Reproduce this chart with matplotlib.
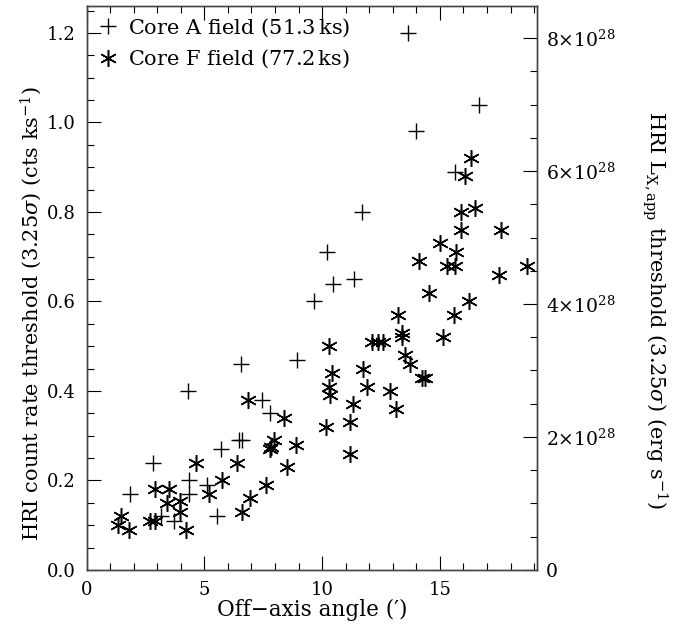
import matplotlib
matplotlib.use("Agg")
import matplotlib.pyplot as plt
from matplotlib.ticker import MultipleLocator, FixedLocator

# Core A field (51.3 ks): off-axis angle (arcmin), count-rate threshold (cts/ks)
core_a_angle = [1.85, 2.8, 3.15, 3.7, 4.3, 4.35, 4.35, 5.1, 5.55, 5.7, 6.45, 6.6,
                6.55, 7.45, 7.8, 8.95, 9.65, 10.2, 10.45, 11.35, 11.7, 13.65, 14.0,
                15.65, 16.65]
core_a_rate = [0.17, 0.24, 0.12, 0.11, 0.40, 0.20, 0.17, 0.19, 0.12, 0.27, 0.29, 0.29,
               0.46, 0.38, 0.35, 0.47, 0.60, 0.71, 0.64, 0.65, 0.80, 1.20, 0.98,
               0.89, 1.04]

# Core F field (77.2 ks)
core_f_angle = [1.45, 1.35, 1.8, 2.7, 2.9, 2.9, 3.5, 3.4, 3.95, 3.95, 4.2, 4.65,
                5.2, 5.75, 6.4, 6.6, 6.95, 7.6, 6.85, 8.4, 7.8, 7.85, 7.95, 8.9,
                8.5, 10.15, 10.3, 10.4, 10.3, 10.35, 11.2, 11.2, 11.3, 11.75, 11.9,
                12.1, 12.35, 12.6, 12.9, 13.15, 13.2, 13.4, 13.4, 13.5, 13.75, 14.25,
                14.35, 14.1, 14.55, 15.15, 15.0, 15.3, 15.65, 15.7, 15.6, 15.9, 15.9,
                16.05, 16.3, 16.5, 16.25, 17.5, 17.6, 18.7]
core_f_rate = [0.12, 0.10, 0.09, 0.11, 0.11, 0.18, 0.18, 0.15, 0.155, 0.13, 0.09, 0.24,
               0.17, 0.20, 0.24, 0.13, 0.16, 0.19, 0.38, 0.34, 0.27, 0.275, 0.29, 0.28,
               0.23, 0.32, 0.50, 0.44, 0.41, 0.39, 0.26, 0.33, 0.37, 0.45, 0.41,
               0.51, 0.51, 0.51, 0.40, 0.36, 0.57, 0.53, 0.52, 0.48, 0.46, 0.43,
               0.43, 0.69, 0.62, 0.52, 0.73, 0.68, 0.68, 0.71, 0.57, 0.76, 0.80,
               0.88, 0.92, 0.81, 0.60, 0.66, 0.76, 0.68]

# conversion count rate -> apparent luminosity (erg/s per cts/ks)
lum_per_rate = 6.73e28
lum_ticks = [0, 2e28, 4e28, 6e28, 8e28]
lum_labels = ["0", r"$2{\times}10^{28}$", r"$4{\times}10^{28}$",
              r"$6{\times}10^{28}$", r"$8{\times}10^{28}$"]

plt.rcParams["font.family"] = ["DejaVu Serif"]
plt.rcParams["mathtext.fontset"] = "dejavuserif"
plt.rcParams["font.size"] = 13

fig = plt.figure(figsize=(6.87, 6.34), dpi=100)
ax = fig.add_axes([0.126, 0.101, 0.656, 0.890])

ax.plot(core_a_angle, core_a_rate, ls="none", marker="+", ms=12, mew=1.0,
        color="black", label="Core A field (51.3$\\,$ks)")
ax.plot(core_f_angle, core_f_rate, ls="none", marker=(6, 2, 0), ms=12, mew=1.1,
        color="black", label="Core F field (77.2$\\,$ks)")

ylim = (0, 1.261)
ax.set_xlim(0, 19.13)
ax.set_ylim(*ylim)
ax.xaxis.set_major_locator(MultipleLocator(5))
ax.xaxis.set_minor_locator(MultipleLocator(1))
ax.yaxis.set_major_locator(MultipleLocator(0.2))
ax.yaxis.set_minor_locator(MultipleLocator(0.05))
ax.yaxis.set_major_formatter(plt.FuncFormatter(lambda v, p: f"{v:.1f}"))
ax.tick_params(which="both", direction="in", top=True, right=False)
ax.tick_params(which="major", length=10, width=0.8, pad=8)
ax.tick_params(which="minor", length=5, width=0.8)
ax.set_xlabel("Off\u2212axis angle (\u2032)", labelpad=0, fontsize=15.5)
ax.set_ylabel(r"HRI count rate threshold (3.25$\sigma$) (cts ks$^{-1}$)", fontsize=15)
ax.yaxis.set_label_coords(-0.095, 0.455)

ax2 = ax.twinx()
ax2.set_ylim(ylim[0] * lum_per_rate, ylim[1] * lum_per_rate)
ax2.yaxis.set_major_locator(FixedLocator(lum_ticks))
ax2.set_yticklabels(lum_labels, fontsize=13.5)
ax2.yaxis.set_minor_locator(MultipleLocator(0.5e28))
ax2.tick_params(which="both", direction="in")
ax2.tick_params(which="major", length=10, width=0.8, pad=6)
ax2.tick_params(which="minor", length=5, width=0.8)
ax2.set_ylabel(r"HRI L$_{\rm X,app}$ threshold (3.25$\sigma$) (erg s$^{-1}$)",
               rotation=-90, fontsize=15, va="center")
ax2.yaxis.set_label_coords(1.26, 0.46)

for a in (ax, ax2):
    for s in a.spines.values():
        s.set_linewidth(1.0)
        s.set_color("#444444")

ax.legend(loc="upper left", frameon=False, handletextpad=0.4, borderaxespad=0.2,
          handlelength=1.1, labelspacing=0.45, borderpad=0.3, fontsize=15)

fig.savefig("out.png", dpi=100)
